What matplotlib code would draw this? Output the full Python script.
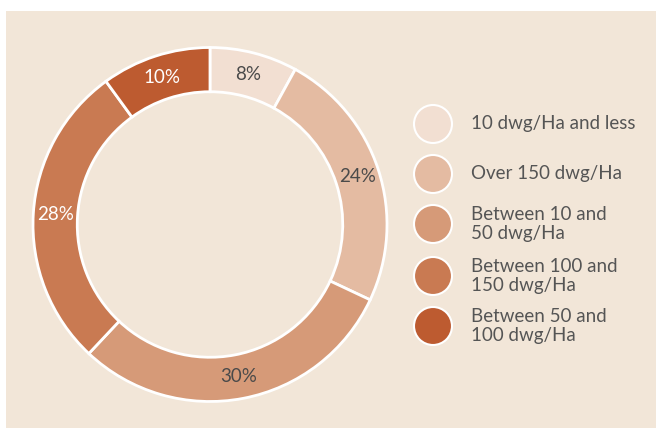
import matplotlib
matplotlib.use("Agg")
import matplotlib.pyplot as plt
from matplotlib.patches import Rectangle, Circle

plt.rcParams['font.family'] = ['Lato', 'DejaVu Sans']

categories = ["10 dwg/Ha and less", "Over 150 dwg/Ha", "Between 10 and\n50 dwg/Ha",
              "Between 100 and\n150 dwg/Ha", "Between 50 and\n100 dwg/Ha"]
values = [8, 24, 30, 28, 10]
colors = ["#f2dfd2", "#e4bba2", "#d69a78", "#c97a52", "#bd5b30"]
label_colors = ["#4a4a4a", "#4a4a4a", "#4a4a4a", "#ffffff", "#ffffff"]

W, H = 662, 437
fig = plt.figure(figsize=(W / 100, H / 100), dpi=100)
fig.patch.set_facecolor("white")

# background panel
bg = fig.add_axes([0, 0, 1, 1])
bg.set_xlim(0, W)
bg.set_ylim(H, 0)
bg.axis("off")
bg.add_patch(Rectangle((6, 11), 650, 417, facecolor="#f2e6d8", edgecolor="none"))

# donut
ax = fig.add_axes([33 / W, 1 - 401.5 / H, 354 / W, 354 / H])
ax.set_facecolor("none")
wedges, texts, autotexts = ax.pie(
    values, colors=colors, startangle=90, counterclock=False,
    autopct="%d%%", pctdistance=0.875,
    wedgeprops=dict(width=0.25, edgecolor="white", linewidth=2),
    textprops=dict(fontsize=13.5))
for t, c in zip(autotexts, label_colors):
    t.set_color(c)
ax.set_aspect("equal")
ax.set_xlim(-1.0, 1.0)
ax.set_ylim(-1.0, 1.0)

# legend
ys = [124, 174, 224, 276, 326]
for y, lab, col in zip(ys, categories, colors):
    bg.add_patch(Circle((433, y), 19, facecolor=col, edgecolor="white", linewidth=1.5))
    bg.text(471, y, lab, fontsize=13.5, color="#555555", va="center", ha="left",
            linespacing=1.2)

fig.savefig("out.png", dpi=100, facecolor="white")
